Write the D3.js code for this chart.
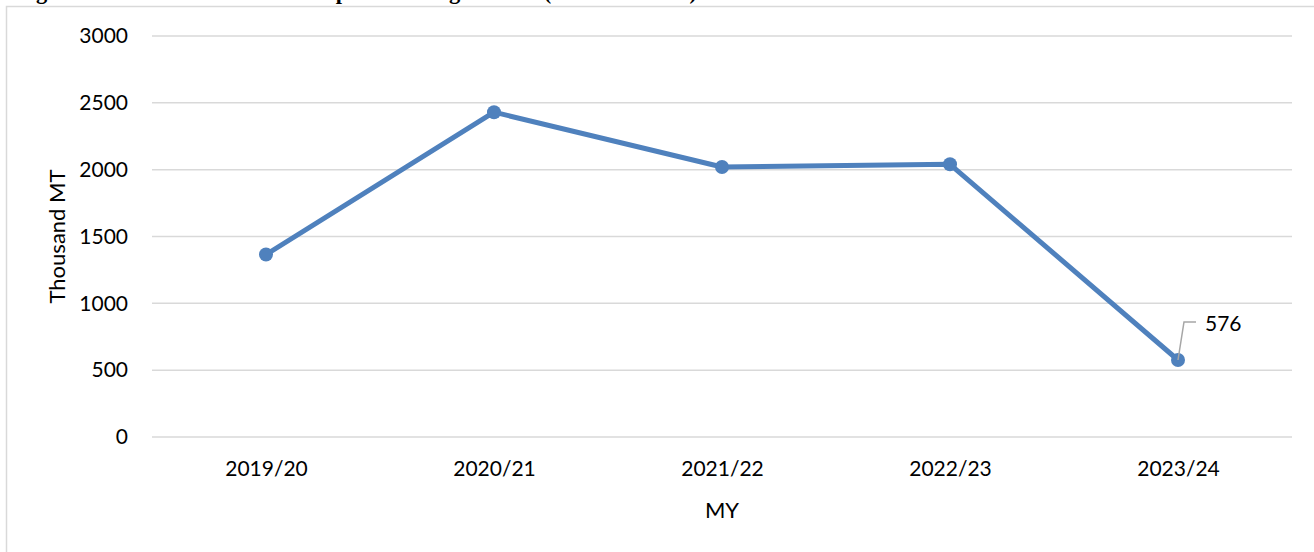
<!DOCTYPE html>
<html lang="en">
<head>
<meta charset="UTF-8">
<title>Thousand MT by MY</title>
<script src="https://cdn.jsdelivr.net/npm/d3@7"></script>
<style>
    body{ margin:0; background:#fff; }
    svg{ display:block; }
    .tick text{ font-family: Lato, "Open Sans", sans-serif; font-size:21px; fill:#000; }
    .grid line{ stroke:#d9d9d9; stroke-width:1.5px; }
    .series{ fill:none; stroke:#4f81bd; stroke-width:5px; stroke-linejoin:round; }
    .dot{ fill:#4f81bd; }
</style>
</head>
<body>
<svg id="main" width="1314" height="552"></svg>
<script>
// values
const years = ["2019/20", "2020/21", "2021/22", "2022/23", "2023/24"];
const imports = [1365, 2430, 2020, 2040, 576];
const yTicks = [0, 500, 1000, 1500, 2000, 2500, 3000];
const labelled = ["2023/24"];

const W = 1314, H = 552;
const plot = {left:152, right:1292, top:36, bottom:437};

const svg = d3.select("#main");

// caption, cut off by the top edge like in the source
svg.append("text")
    .attr("x", 16).attr("y", -1)
    .attr("font-family", "'Liberation Serif', 'Times New Roman', serif")
    .attr("font-weight", "bold")
    .attr("font-size", 22.5)
    .text("Figure 4: Total Annual Wheat Imports During the MY (Thousand MT)");

// chart frame
svg.append("rect")
    .attr("x", 6.5).attr("y", 6.5)
    .attr("width", W).attr("height", H)
    .attr("fill", "none").attr("stroke", "#d9d9d9").attr("stroke-width", 1.5);

const x = d3.scalePoint().domain(years).range([plot.left, plot.right]).padding(0.5);
const y = d3.scaleLinear().domain([0, 3000]).range([plot.bottom, plot.top]);

// gridlines
svg.append("g").attr("class", "grid")
    .selectAll("line").data(yTicks).enter().append("line")
    .attr("x1", plot.left).attr("x2", plot.right)
    .attr("y1", d => y(d)).attr("y2", d => y(d));

// y axis
svg.append("g")
    .attr("transform", `translate(${plot.left},0)`)
    .call(d3.axisLeft(y).tickValues(yTicks).tickFormat(d3.format("d")).tickSize(0).tickPadding(24))
    .call(g => g.select(".domain").remove());

// x axis
svg.append("g")
    .attr("transform", `translate(0,${plot.bottom})`)
    .call(d3.axisBottom(x).tickSize(0).tickPadding(24))
    .call(g => g.select(".domain").remove());

// axis titles
svg.append("text")
    .attr("x", (plot.left + plot.right) / 2).attr("y", 518)
    .attr("text-anchor", "middle")
    .attr("font-family", "Lato, sans-serif").attr("font-size", 22)
    .text("MY");
svg.append("text")
    .attr("transform", `translate(65,${(plot.top + plot.bottom) / 2}) rotate(-90)`)
    .attr("text-anchor", "middle")
    .attr("font-family", "Lato, sans-serif").attr("font-size", 22)
    .text("Thousand MT");

const data = years.map((yr, i) => ({yr, v: imports[i]}));

const line = d3.line().x(d => x(d.yr)).y(d => y(d.v));
svg.append("path").datum(data).attr("class", "series").attr("d", line);

svg.selectAll(".dot").data(data).enter().append("circle")
    .attr("class", "dot")
    .attr("cx", d => x(d.yr)).attr("cy", d => y(d.v)).attr("r", 7);

// data label with leader line
const lab = data.filter(d => labelled.includes(d.yr));
svg.selectAll(".leader").data(lab).enter().append("path")
    .attr("fill", "none").attr("stroke", "#a6a6a6").attr("stroke-width", 1.5)
    .attr("d", d => {
        const px = x(d.yr), py = y(d.v);
        return `M${px},${py} L${px + 6},${py - 38} L${px + 18},${py - 38}`;
    });
svg.selectAll(".vlab").data(lab).enter().append("text")
    .attr("x", d => x(d.yr) + 27).attr("y", d => y(d.v) - 29)
    .attr("font-family", "Lato, sans-serif").attr("font-size", 21)
    .text(d => d.v);
</script>
</body>
</html>
